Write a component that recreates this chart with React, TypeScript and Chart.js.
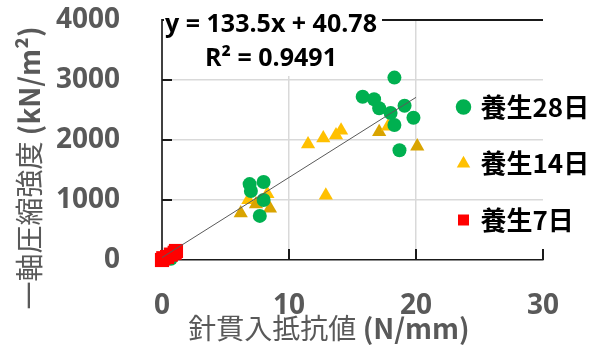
import React, { useEffect, useRef } from "react";
import { Chart, registerables } from "chart.js";

Chart.register(...registerables);

// ---- data ----
const label28 = "養生28日";
const label14 = "養生14日";
const label7 = "養生7日";

const cure28X = [18.3, 15.8, 16.7, 17.1, 19.1, 18.0, 18.3, 19.8, 18.7, 6.9, 8.0, 7.0, 8.0, 7.7, 0.7];
const cure28Y = [3040, 2720, 2680, 2530, 2570, 2450, 2250, 2370, 1830, 1265, 1300, 1150, 1000, 735, 20];

const cure14X = [11.5, 12.7, 13.7, 14.1, 17.1, 17.8, 20.1, 12.9, 6.2, 8.5, 6.8, 8.3, 7.4];
const cure14Y = [1930, 2030, 2080, 2160, 2135, 2225, 1895, 1075, 780, 860, 1000, 1100, 930];
const cure14Dark = [false, false, false, false, true, false, true, false, true, true, false, false, true];

const cure7X = [0.0, 0.1, 0.4, 0.7, 1.0, 1.1];
const cure7Y = [0, 30, 50, 90, 120, 150];

const trendX = [0, 20];
const trendY = [40.78, 2710.78];
const equationText = "y = 133.5x + 40.78";
const r2Text = "R² = 0.9491";

const xTicks = [0, 10, 20, 30];
const yTicks = [0, 1000, 2000, 3000, 4000];

const xTitleMain = "針貫入抵抗値";
const xTitleUnit = " (N/mm)";
const yTitleMain = "一軸圧縮強度";
const yTitleUnit = " (kN/m²)";

// ---- styles ----
const GREEN = "#00B050";
const YELLOW = "#FFC000";
const YELLOW_DARK = "#D9A400";
const RED = "#FF0000";
const AXIS_TEXT = "#595959";
const GRID = "#D9D9D9";
const FRAME = "#1a1a1a";
const LATIN = '"Open Sans", "Noto Sans CJK JP", sans-serif';
const CJK = '"Noto Sans CJK JP", "Open Sans", sans-serif';

const pts = (xs: number[], ys: number[]) => xs.map((x, i) => ({ x, y: ys[i] }));

const legendPlacement = {
  id: "legendPlacement",
  afterLayout(chart: any) {
    const lg = chart.legend;
    if (!lg) return;
    lg.left = 429;
    lg.right = 603;
    lg.width = 174;
    lg.top = 0;
    lg.bottom = 327;
    lg.height = 327;
  },
};

const overlay = {
  id: "overlay",
  afterDraw(chart: any) {
    const ctx: CanvasRenderingContext2D = chart.ctx;
    const area = chart.chartArea;
    const x = chart.scales.x;
    const y = chart.scales.y;
    const left = area.left;
    const right = area.right;
    const bottom = area.bottom;
    const top = y.getPixelForValue(4000);

    ctx.save();
    ctx.fillStyle = FRAME;
    // top frame line at the axis maximum
    ctx.fillRect(left, Math.round(top) - 1, right - left, 2);
    // inward tick marks
    for (const v of yTicks) {
      if (v === 0) continue;
      const py = Math.round(y.getPixelForValue(v));
      ctx.fillRect(left, py - 1, 10, 2);
    }
    for (const v of xTicks) {
      if (v === 0) continue;
      const px = Math.round(x.getPixelForValue(v));
      ctx.fillRect(px - 1, bottom - 11, 2, 11);
    }

    // trendline equation box
    ctx.fillStyle = "#FFFFFF";
    ctx.fillRect(164, 8, 218, 68);
    ctx.fillStyle = "#000000";
    ctx.font = `bold 25px ${LATIN}`;
    ctx.textAlign = "center";
    ctx.textBaseline = "middle";
    ctx.fillText(equationText, 271, 25);
    ctx.fillText(r2Text, 271, 59);

    // x title
    ctx.fillStyle = AXIS_TEXT;
    ctx.textAlign = "left";
    const fMain = `normal 28px ${CJK}`;
    const fUnit = `bold 28px ${CJK}`;
    ctx.font = fMain;
    const wxm = ctx.measureText(xTitleMain).width;
    ctx.font = fUnit;
    const wxu = ctx.measureText(xTitleUnit).width;
    const sx = 329 - (wxm + wxu) / 2;
    ctx.font = fMain;
    ctx.fillText(xTitleMain, sx, 328);
    ctx.font = fUnit;
    ctx.fillText(xTitleUnit, sx + wxm, 328);

    // y title
    ctx.translate(29, 168);
    ctx.rotate(-Math.PI / 2);
    ctx.font = fMain;
    const wym = ctx.measureText(yTitleMain).width;
    ctx.font = fUnit;
    const wyu = ctx.measureText(yTitleUnit).width;
    const sy = -(wym + wyu) / 2;
    ctx.font = fMain;
    ctx.fillText(yTitleMain, sy, 0);
    ctx.font = fUnit;
    ctx.fillText(yTitleUnit, sy + wym, 0);
    ctx.restore();
  },
};

export default function App() {
  const ref = useRef<HTMLCanvasElement | null>(null);

  useEffect(() => {
    if (!ref.current) return;
    const chart = new Chart(ref.current, {
      type: "scatter",
      data: {
        datasets: [
          {
            label: label28,
            data: pts(cure28X, cure28Y),
            pointStyle: "circle",
            pointRadius: 7,
            pointHoverRadius: 7,
            backgroundColor: GREEN,
            borderColor: GREEN,
            borderWidth: 0,
            order: 2,
            clip: false,
          } as any,
          {
            label: label14,
            data: pts(cure14X, cure14Y),
            pointStyle: "triangle",
            pointRadius: 8.2,
            pointHoverRadius: 8.2,
            backgroundColor: cure14Dark.map((d) => (d ? YELLOW_DARK : YELLOW)),
            borderColor: cure14Dark.map((d) => (d ? YELLOW_DARK : YELLOW)),
            borderWidth: 0,
            order: 3,
            clip: false,
          } as any,
          {
            label: label7,
            data: pts(cure7X, cure7Y),
            pointStyle: "rect",
            pointRadius: 10,
            pointHoverRadius: 10,
            backgroundColor: RED,
            borderColor: RED,
            borderWidth: 0,
            order: 1,
            clip: false,
          } as any,
          {
            label: "trend",
            data: pts(trendX, trendY),
            showLine: true,
            pointRadius: 0,
            borderColor: "#595959",
            borderWidth: 1,
            order: 0,
            clip: false,
          } as any,
        ],
      },
      options: {
        animation: false,
        responsive: false,
        devicePixelRatio: 1,
        events: [],
        layout: { padding: { top: 20, right: 59, bottom: 0, left: 0 } },
        plugins: {
          tooltip: { enabled: false },
          legend: {
            display: true,
            position: "right",
            maxWidth: 1,
            labels: {
              usePointStyle: true,
              boxWidth: 8,
              boxHeight: 11,
              padding: 30.5,
              color: "#000000",
              font: { family: CJK, size: 26, weight: "bold" },
              filter: (item: any) => item.datasetIndex !== 3,
              sort: (a: any, b: any) => a.datasetIndex - b.datasetIndex,
            },
          },
        },
        scales: {
          x: {
            type: "linear",
            min: 0,
            max: 30,
            afterBuildTicks: (s: any) => {
              s.ticks = xTicks.map((v) => ({ value: v }));
            },
            afterFit: (s: any) => {
              s.height = 85;
              s.paddingLeft = 0;
              s.paddingRight = 0;
            },
            ticks: {
              padding: 29,
              color: AXIS_TEXT,
              font: { family: LATIN, size: 28, weight: "bold" },
              callback: (v: any) => String(v),
              maxRotation: 0,
            },
            grid: {
              drawTicks: false,
              lineWidth: 1.5,
              color: (c: any) =>
                c.tick && (c.tick.value === 0 || c.tick.value === 30) ? "rgba(0,0,0,0)" : GRID,
            },
            border: { display: true, color: FRAME, width: 1.5 },
          },
          y: {
            type: "linear",
            min: 0,
            max: 4000,
            afterBuildTicks: (s: any) => {
              s.ticks = yTicks.map((v) => ({ value: v }));
            },
            afterFit: (s: any) => {
              s.width = 162;
              s.paddingTop = 0;
              s.paddingBottom = 0;
            },
            ticks: {
              padding: 42,
              color: AXIS_TEXT,
              font: { family: LATIN, size: 28, weight: "bold" },
              callback: (v: any) => String(v),
            },
            grid: {
              drawTicks: false,
              lineWidth: 1.5,
              color: (c: any) =>
                c.tick && (c.tick.value === 0 || c.tick.value === 4000) ? "rgba(0,0,0,0)" : GRID,
            },
            border: { display: true, color: "#404040", width: 2 },
          },
        },
      } as any,
      plugins: [legendPlacement, overlay],
    });
    return () => chart.destroy();
  }, []);

  return (
    <div style={{ position: "absolute", left: 0, top: 0, width: 603, height: 345, background: "#fff" }}>
      <canvas ref={ref} width={603} height={345} style={{ display: "block" }} />
    </div>
  );
}
